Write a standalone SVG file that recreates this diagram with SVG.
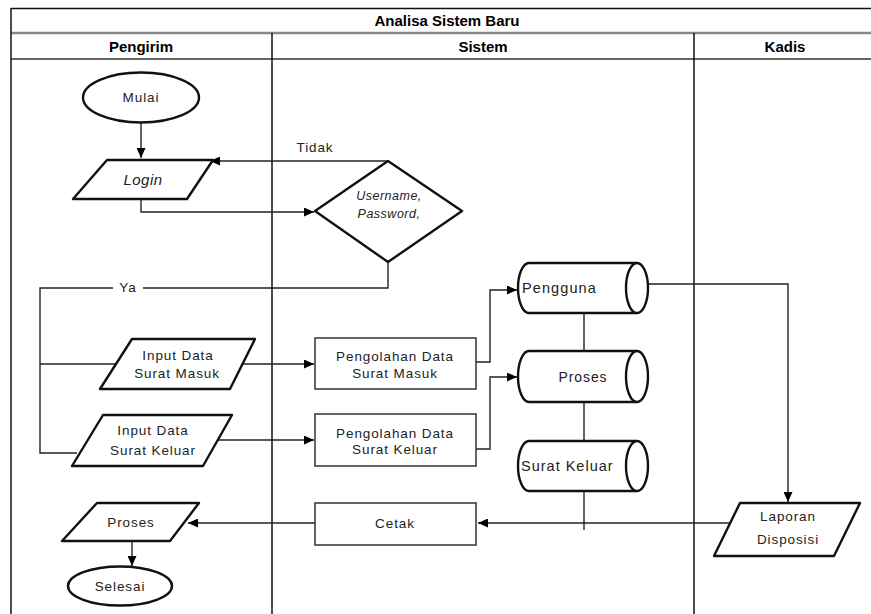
<svg xmlns="http://www.w3.org/2000/svg" width="871" height="614" viewBox="0 0 871 614">
<style>
.hdr{font-family:"Liberation Sans",Arial,sans-serif;font-weight:bold;font-size:15px;fill:#000;text-anchor:middle}
.t{font-family:"Liberation Sans",Arial,sans-serif;font-size:13.5px;fill:#222;text-anchor:middle;letter-spacing:0.9px}
.ti{font-family:"Liberation Sans",Arial,sans-serif;font-size:12.5px;font-style:italic;fill:#222;text-anchor:middle;letter-spacing:0.5px}
.shape{fill:#fff;stroke:#111;stroke-width:2.4;stroke-linejoin:round}
.box{fill:#fff;stroke:#333;stroke-width:1.5}
.conn{fill:none;stroke:#222;stroke-width:1.4}
.lane{stroke:#111;stroke-width:1.5}
</style>
<defs>
<marker id="arr" markerUnits="userSpaceOnUse" markerWidth="10" markerHeight="9" refX="10" refY="4.5" orient="auto">
<path d="M0,0 L10,4.5 L0,9 z" fill="#000"/>
</marker>
</defs>
<rect x="0" y="0" width="871" height="614" fill="#fff"/>
<g id="frame">
<line class="lane" x1="11" y1="8.5" x2="871" y2="8.5" stroke-width="2"/>
<line x1="11" y1="33" x2="871" y2="33" stroke="#888" stroke-width="2.5"/>
<line x1="11" y1="59" x2="871" y2="59" stroke="#666" stroke-width="2"/>
<line class="lane" x1="11" y1="8" x2="11" y2="614"/>
<line class="lane" x1="272" y1="33" x2="272" y2="614"/>
<line class="lane" x1="694" y1="33" x2="694" y2="614"/>
<text class="hdr" x="447" y="26">Analisa Sistem Baru</text>
<text class="hdr" x="141" y="52">Pengirim</text>
<text class="hdr" x="483" y="52">Sistem</text>
<text class="hdr" x="785" y="52">Kadis</text>
</g>
<g id="connectors">
<path class="conn" d="M141 123 V158" marker-end="url(#arr)"/>
<path class="conn" d="M388 161 H210" marker-end="url(#arr)"/>
<path class="conn" d="M141 199 V212 H314" marker-end="url(#arr)"/>
<path class="conn" d="M388 262 V288 H40 V453 H77"/>
<path class="conn" d="M40 364 H116"/>
<path class="conn" d="M242 364 H314" marker-end="url(#arr)"/>
<path class="conn" d="M218 440 H314" marker-end="url(#arr)"/>
<path class="conn" d="M476 362 H490 V290 H517" marker-end="url(#arr)"/>
<path class="conn" d="M476 449 H490 V377 H517" marker-end="url(#arr)"/>
<path class="conn" d="M584 313 V351"/>
<path class="conn" d="M584 403 V441"/>
<path class="conn" d="M584 491 V530"/>
<path class="conn" d="M648 284 H788 V502" marker-end="url(#arr)"/>
<path class="conn" d="M730 523 H478" marker-end="url(#arr)"/>
<path class="conn" d="M315 523 H188" marker-end="url(#arr)"/>
<path class="conn" d="M132 541 V566" marker-end="url(#arr)"/>
<rect x="113" y="280" width="30" height="16" fill="#fff"/>
<text class="t" x="128" y="292">Ya</text>
<text class="t" x="315" y="152">Tidak</text>
</g>
<g id="mulai">
<ellipse class="shape" cx="141" cy="97.5" rx="58" ry="25"/>
<text class="t" x="141" y="102">Mulai</text>
</g>
<g id="login">
<path class="shape" d="M107 160 H213 L187 199 H73 Z"/>
<text class="ti" x="143" y="185" style="font-size:15px">Login</text>
</g>
<g id="cek-login">
<path class="shape" d="M388 161 L462 211 L388 262 L315 211 Z"/>
<text class="ti" x="389" y="200">Username,</text>
<text class="ti" x="389" y="218">Password,</text>
</g>
<g id="input-masuk">
<path class="shape" d="M132 339 H255 L230 389 H100 Z"/>
<text class="t" x="178" y="360">Input Data</text>
<text class="t" x="177" y="378">Surat Masuk</text>
</g>
<g id="input-keluar">
<path class="shape" d="M103 415 H232 L203 466 H72 Z"/>
<text class="t" x="153" y="435">Input Data</text>
<text class="t" x="153" y="455">Surat Keluar</text>
</g>
<g id="olah-masuk">
<rect class="box" x="315" y="338" width="161" height="51"/>
<text class="t" x="395" y="361">Pengolahan Data</text>
<text class="t" x="395" y="378">Surat Masuk</text>
</g>
<g id="olah-keluar">
<rect class="box" x="315" y="414" width="161" height="52"/>
<text class="t" x="395" y="438">Pengolahan Data</text>
<text class="t" x="395" y="454">Surat Keluar</text>
</g>
<g id="db-pengguna">
<path class="shape" d="M529 263 H637 A11 25 0 0 1 637 313 H529 A11 25 0 0 1 529 263 Z"/>
<path class="shape" fill="none" d="M637 263 A11 25 0 0 0 637 313"/>
<text class="t" x="522" y="293" style="font-size:14.5px;text-anchor:start;letter-spacing:1.1px">Pengguna</text>
</g>
<g id="db-proses">
<path class="shape" d="M529 351 H637 A11 25.5 0 0 1 637 402 H529 A11 25.5 0 0 1 529 351 Z"/>
<path class="shape" fill="none" d="M637 351 A11 25.5 0 0 0 637 402"/>
<text class="t" x="583" y="382" style="font-size:14px">Proses</text>
</g>
<g id="db-surat-keluar">
<path class="shape" d="M529 441 H637 A11 25 0 0 1 637 491 H529 A11 25 0 0 1 529 441 Z"/>
<path class="shape" fill="none" d="M637 441 A11 25 0 0 0 637 491"/>
<text class="t" x="521" y="471" style="font-size:14.5px;text-anchor:start;letter-spacing:1px">Surat Keluar</text>
</g>
<g id="laporan">
<path class="shape" d="M740 503 H860 L834 556 H714 Z"/>
<text class="t" x="788" y="521">Laporan</text>
<text class="t" x="788" y="544">Disposisi</text>
</g>
<g id="cetak">
<rect class="box" x="315" y="503" width="161" height="42"/>
<text class="t" x="395" y="528">Cetak</text>
</g>
<g id="proses">
<path class="shape" d="M97 503 H199 L170 541 H62 Z"/>
<text class="t" x="131" y="527">Proses</text>
</g>
<g id="selesai">
<ellipse class="shape" cx="120" cy="586" rx="52" ry="19.5"/>
<text class="t" x="120" y="591">Selesai</text>
</g>
</svg>
